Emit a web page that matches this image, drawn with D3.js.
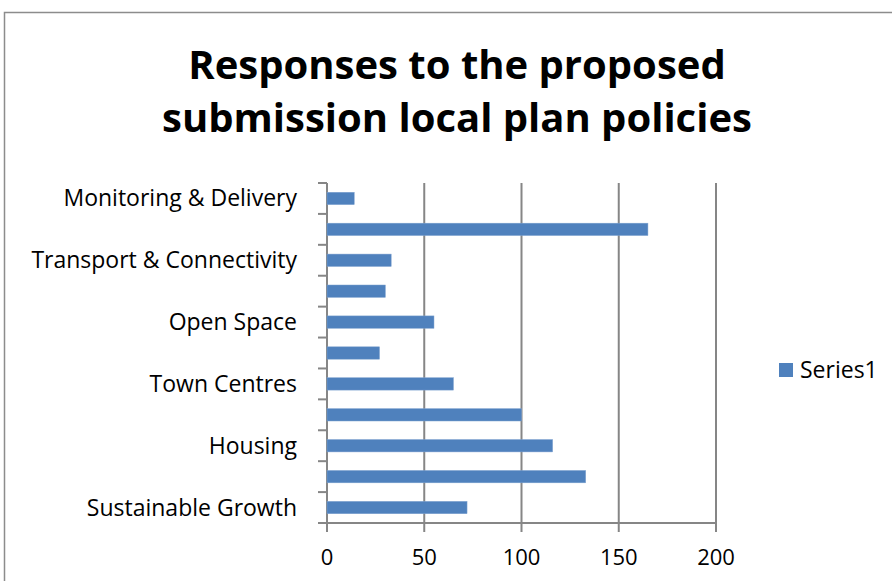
<!DOCTYPE html>
<html>
<head>
<meta charset="utf-8">
<script src="https://cdn.jsdelivr.net/npm/d3@7"></script>
<style>
  body { margin: 0; background: #fff; }
  text { font-family: 'Open Sans', sans-serif; fill: #000; }
</style>
</head>
<body>
<svg width="892" height="581"></svg>
<script>
const titleLines = ['Responses to the proposed', 'submission local plan policies'];

// bottom to top, every other label is hidden in the original
const categories = [
  'Sustainable Growth', '', 'Housing', '', 'Town Centres', '',
  'Open Space', '', 'Transport & Connectivity', '', 'Monitoring & Delivery'
];
const values = [72, 133, 116, 100, 65, 27, 55, 30, 33, 165, 14];
const xTicks = [0, 50, 100, 150, 200];
const seriesName = 'Series1';

const svg = d3.select('svg');

const margin = { top: 183, right: 176, bottom: 58, left: 327 };
const width = +svg.attr('width');
const height = +svg.attr('height');
const plotBottom = height - margin.bottom;
const plotRight = width - margin.right;

const gridColor = '#868686';
const barColor = '#4F81BD';

// chart border (right and bottom edges fall outside the picture)
svg.append('path')
  .attr('d', `M${width},12.5H4.5V${height}`)
  .attr('fill', 'none')
  .attr('stroke', '#8c8c8c')
  .attr('stroke-width', 1.5);

svg.append('text')
  .attr('text-anchor', 'middle')
  .attr('font-weight', 'bold')
  .attr('font-size', 40)
  .selectAll('tspan')
  .data(titleLines)
  .join('tspan')
    .attr('x', 457)
    .attr('y', (d, i) => 79 + i * 53)
    .text(d => d);

const xScale = d3.scaleLinear()
  .domain([0, 200])
  .range([margin.left, plotRight]);

const yScale = d3.scaleBand()
  .domain(d3.range(categories.length))
  .range([plotBottom, margin.top])
  .paddingInner(0.6)
  .paddingOuter(0.3);

// vertical gridlines (they run a bit below the axis as ticks)
svg.selectAll('.grid')
  .data(xTicks)
  .join('line')
    .attr('class', 'grid')
    .attr('x1', d => xScale(d)).attr('x2', d => xScale(d))
    .attr('y1', margin.top).attr('y2', plotBottom + 9)
    .attr('stroke', gridColor)
    .attr('stroke-width', 2);

// y axis with ticks between categories
const step = (plotBottom - margin.top) / categories.length;
svg.selectAll('.ytick')
  .data(d3.range(categories.length + 1))
  .join('line')
    .attr('class', 'ytick')
    .attr('x1', margin.left - 9).attr('x2', margin.left)
    .attr('y1', d => margin.top + d * step).attr('y2', d => margin.top + d * step)
    .attr('stroke', gridColor)
    .attr('stroke-width', 2);

svg.append('line')
  .attr('x1', margin.left - 9).attr('x2', plotRight)
  .attr('y1', plotBottom).attr('y2', plotBottom)
  .attr('stroke', gridColor)
  .attr('stroke-width', 2);

svg.selectAll('.bar')
  .data(values)
  .join('rect')
    .attr('class', 'bar')
    .attr('x', xScale(0))
    .attr('y', (d, i) => yScale(i))
    .attr('width', d => xScale(d) - xScale(0))
    .attr('height', yScale.bandwidth())
    .attr('fill', barColor)
    .attr('stroke', '#7ea2cf')
    .attr('stroke-width', 0.5);

const labelled = categories
  .map((name, i) => ({ name, i }))
  .filter(d => d.name !== '');

svg.selectAll('.ylabel')
  .data(labelled)
  .join('text')
    .attr('class', 'ylabel')
    .attr('x', margin.left - 30)
    .attr('y', d => yScale(d.i) + yScale.bandwidth() / 2 + 8)
    .attr('text-anchor', 'end')
    .attr('font-size', 23)
    .text(d => d.name);

svg.selectAll('.xlabel')
  .data(xTicks)
  .join('text')
    .attr('class', 'xlabel')
    .attr('x', d => xScale(d))
    .attr('y', plotBottom + 42)
    .attr('text-anchor', 'middle')
    .attr('font-size', 22)
    .text(d => d);

// legend
const legend = svg.append('g')
  .attr('transform', 'translate(779,363)');
legend.append('rect')
  .attr('width', 14).attr('height', 14)
  .attr('fill', barColor);
legend.append('text')
  .attr('x', 21).attr('y', 15)
  .attr('font-size', 23)
  .text(seriesName);
</script>
</body>
</html>
